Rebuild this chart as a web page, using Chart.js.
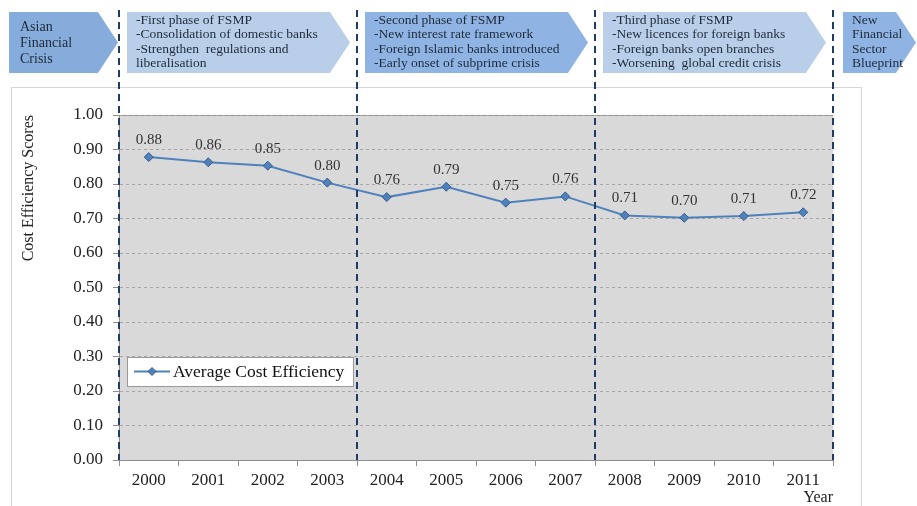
<!DOCTYPE html>
<html>
<head>
<meta charset="utf-8">
<script src="https://cdn.jsdelivr.net/npm/chart.js@4/dist/chart.umd.min.js"></script>
<style>
  html, body { margin: 0; padding: 0; background: #fff; }
  #wrap { width: 917px; height: 506px; }
</style>
</head>
<body>
<div id="wrap"><canvas id="chart" width="917" height="506"></canvas></div>
<script>
// values
const years = ["2000", "2001", "2002", "2003", "2004", "2005", "2006", "2007", "2008", "2009", "2010", "2011"];
const costEfficiency = [0.878, 0.863, 0.853, 0.804, 0.762, 0.792, 0.746, 0.764, 0.709, 0.702, 0.707, 0.718];
const seriesName = "Average Cost Efficiency";

// phase banners along the top (first category index of each phase)
const phaseStarts = [0, 4, 8, 12];
const bannerTexts = [
    ["Asian", "Financial", "Crisis"],
    ["-First phase of FSMP", "-Consolidation of domestic banks", "-Strengthen  regulations and", "liberalisation"],
    ["-Second phase of FSMP", "-New interest rate framework", "-Foreign Islamic banks introduced", "-Early onset of subprime crisis"],
    ["-Third phase of FSMP", "-New licences for foreign banks", "-Foreign banks open branches", "-Worsening  global credit crisis"],
    ["New", "Financial", "Sector", "Blueprint"],
];

const SERIF = "'Liberation Serif', 'Times New Roman', serif";
const LINE_BLUE = "#4f81bd";
const MARK_EDGE = "#385d8a";
const NAVY = "#1f3b66";

function boundaryX(chart, idx) {
    const x = chart.scales.x;
    const step = x.getPixelForValue(1) - x.getPixelForValue(0);
    return x.getPixelForValue(idx) - step / 2;
}

function chevron(ctx, l, r, top, bottom, tip, fill) {
    const mid = (top + bottom) / 2;
    ctx.beginPath();
    ctx.moveTo(l, top);
    ctx.lineTo(r - tip, top);
    ctx.lineTo(r, mid);
    ctx.lineTo(r - tip, bottom);
    ctx.lineTo(l, bottom);
    ctx.closePath();
    ctx.fillStyle = fill;
    ctx.fill();
}

const decor = {
    id: "decor",
    beforeDraw(chart) {
        const ctx = chart.ctx;
        const a = chart.chartArea;
        ctx.save();
        // outer frame
        ctx.strokeStyle = "#d6d6d6";
        ctx.lineWidth = 1;
        ctx.strokeRect(11.5, 87.5, 850, 430);
        // plot background
        ctx.fillStyle = "#d9d9d9";
        ctx.fillRect(a.left, a.top, a.right - a.left, a.bottom - a.top);
        ctx.strokeStyle = "#8c8c8c";
        ctx.beginPath();
        ctx.moveTo(a.left, a.top + 0.5);
        ctx.lineTo(a.right, a.top + 0.5);
        ctx.stroke();
        ctx.restore();
    },
    afterDraw(chart) {
        const ctx = chart.ctx;
        const a = chart.chartArea;
        ctx.save();
        // banners
        const top = 12, bottom = 73;
        const xs = phaseStarts.map(i => boundaryX(chart, i));
        const spans = [[9, xs[0] - 1]];
        for (let i = 0; i < xs.length - 1; i++) spans.push([xs[i] + 8, xs[i + 1] - 7]);
        spans.push([xs[xs.length - 1] + 10, 916]);
        const fills = ["#86acdb", "#b9cfe9", "#8fb4e3", "#b9cfe9", "#8fb4e3"];
        spans.forEach((s, i) => {
            chevron(ctx, s[0], s[1], top, bottom, 20, fills[i]);
            const lines = bannerTexts[i];
            ctx.fillStyle = "#1e2a3a";
            ctx.textBaseline = "middle";
            ctx.textAlign = "left";
            if (i === 0) {
                ctx.font = "14px " + SERIF;
                lines.forEach((t, j) => ctx.fillText(t, s[0] + 11, 27 + j * 16));
            } else {
                ctx.font = "13.5px " + SERIF;
                lines.forEach((t, j) => ctx.fillText(t, s[0] + 9, 20 + j * 14.6));
            }
        });
        // phase dividers
        ctx.strokeStyle = NAVY;
        ctx.lineWidth = 2;
        ctx.setLineDash([7, 5]);
        xs.forEach(x => {
            ctx.beginPath();
            ctx.moveTo(Math.round(x), 10);
            ctx.lineTo(Math.round(x), a.bottom);
            ctx.stroke();
        });
        ctx.setLineDash([]);
        // value labels
        const meta = chart.getDatasetMeta(0);
        ctx.font = "15px " + SERIF;
        ctx.fillStyle = "#333";
        ctx.textAlign = "center";
        ctx.textBaseline = "middle";
        meta.data.forEach((p, i) => {
            ctx.fillText(costEfficiency[i].toFixed(2), p.x, p.y - 17);
        });
        // legend box
        const lx = 127, ly = 357, lw = 226, lh = 29;
        ctx.fillStyle = "#fff";
        ctx.fillRect(lx, ly, lw, lh);
        ctx.strokeStyle = "#9a9a9a";
        ctx.lineWidth = 1;
        ctx.strokeRect(lx + 0.5, ly + 0.5, lw, lh);
        const cy = ly + lh / 2;
        ctx.strokeStyle = LINE_BLUE;
        ctx.lineWidth = 2;
        ctx.beginPath();
        ctx.moveTo(lx + 7, cy);
        ctx.lineTo(lx + 43, cy);
        ctx.stroke();
        ctx.beginPath();
        ctx.moveTo(lx + 25, cy - 4);
        ctx.lineTo(lx + 29, cy);
        ctx.lineTo(lx + 25, cy + 4);
        ctx.lineTo(lx + 21, cy);
        ctx.closePath();
        ctx.fillStyle = LINE_BLUE;
        ctx.fill();
        ctx.strokeStyle = MARK_EDGE;
        ctx.lineWidth = 1;
        ctx.stroke();
        ctx.fillStyle = "#111";
        ctx.textAlign = "left";
        ctx.font = "17.5px " + SERIF;
        ctx.fillText(seriesName, lx + 46, cy + 1);
        ctx.restore();
    },
};

new Chart(document.getElementById("chart"), {
    type: "line",
    data: {
        labels: years,
        datasets: [{
            label: seriesName,
            data: costEfficiency,
            borderColor: LINE_BLUE,
            borderWidth: 2,
            tension: 0,
            pointStyle: "rectRot",
            pointRadius: 4.5,
            pointBackgroundColor: LINE_BLUE,
            pointBorderColor: MARK_EDGE,
            pointBorderWidth: 1,
        }],
    },
    plugins: [decor],
    options: {
        responsive: false,
        devicePixelRatio: 1,
        animation: false,
        events: [],
        layout: { padding: { left: 10, right: 84, top: 115, bottom: 0 } },
        plugins: { legend: { display: false }, tooltip: { enabled: false } },
        scales: {
            x: {
                offset: true,
                afterFit(s) { s.height = 46; },
                grid: { offset: true, drawOnChartArea: false, tickLength: 6, tickColor: "#8c8c8c" },
                border: { color: "#8c8c8c" },
                ticks: { color: "#222", padding: 4, font: { family: SERIF, size: 17 } },
                title: {
                    display: true, text: "Year", align: "end", color: "#222",
                    padding: { top: 0, bottom: 0 }, font: { family: SERIF, size: 16, lineHeight: 1 },
                },
            },
            y: {
                min: 0,
                max: 1,
                afterFit(s) { s.width = 109; },
                grid: {
                    color: "#a6a6a6", tickLength: 6,
                    tickColor: "#8c8c8c", tickBorderDash: [],
                },
                border: { color: "#8c8c8c", dash: [3, 3] },
                ticks: {
                    stepSize: 0.1, padding: 10, color: "#222",
                    font: { family: SERIF, size: 17 },
                    callback: v => v.toFixed(2),
                },
                title: {
                    display: true, text: "Cost Efficiency Scores", color: "#222", align: "end",
                    padding: { top: 9, bottom: 0 }, font: { family: SERIF, size: 16 },
                },
            },
        },
    },
});
</script>
</body>
</html>
